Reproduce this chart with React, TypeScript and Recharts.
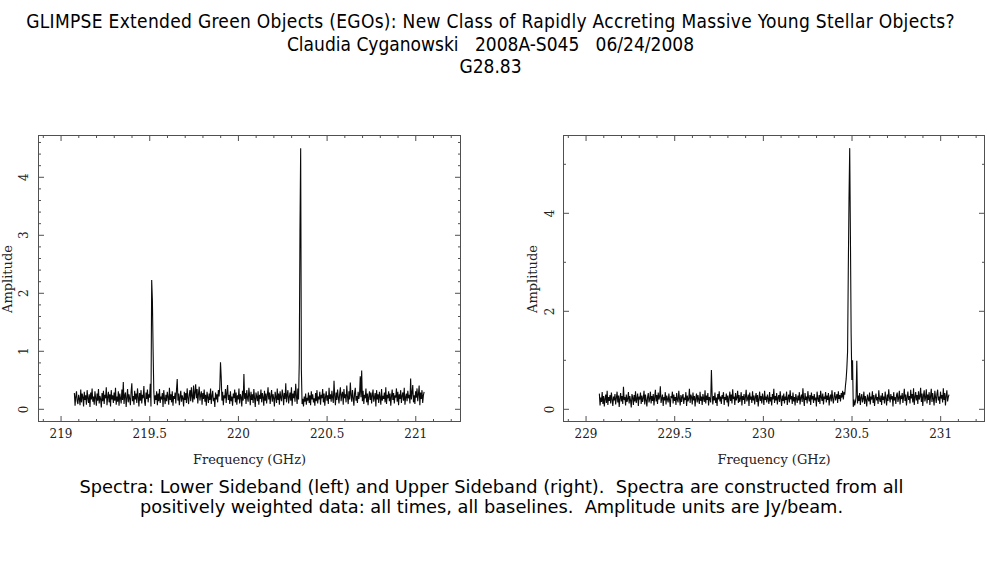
import { LineChart, Line, XAxis, YAxis } from "recharts";

// spectra: amplitude per 4 MHz channel, in hundredths of Jy/beam
const CHAN = 0.004;
const LSB_START = 219.075;
const USB_START = 229.075;

const lsbAmp = [
  28, 6, 22, 31, 14, 9, 25, 18, 7, 34, 12, 27, 21, 5, 30, 16, 24, 8, 33, 19,
  11, 26, 4, 29, 17, 36, 13, 22, 8, 31, 20, 6, 27, 15, 35, 10, 23, 18, 3, 28,
  14, 32, 9, 25, 19, 38, 7, 21, 30, 12, 26, 5, 33, 17, 24, 11, 29, 15, 37, 8,
  22, 13, 31, 6, 27, 19, 10, 34, 16, 47, 9, 24, 29, 4, 20, 35, 12, 26, 18, 7,
  30, 45, 14, 23, 8, 32, 17, 27, 11, 36, 21, 5, 28, 15, 33, 10, 25, 19, 40, 13,
  6, 29, 18, 34, 12, 26, 20, 44, 5, 223, 188, 102, 30, 9, 24, 16, 31, 7, 27, 14,
  35, 11, 22, 17, 28, 4, 33, 19, 9, 25, 14, 30, 21, 8, 37, 16, 26, 12, 31, 6,
  23, 18, 29, 10, 34, 52, 15, 27, 7, 21, 32, 13, 24, 19, 5, 30, 16, 28, 11, 36,
  20, 9, 26, 33, 14, 38, 22, 12, 41, 17, 29, 43, 19, 35, 10, 27, 39, 15, 24, 31,
  8, 28, 18, 34, 13, 25, 6, 30, 21, 11, 27, 16, 36, 9, 23, 32, 14, 20, 4, 29,
  17, 26, 12, 33, 22, 38, 81, 55, 15, 30, 7, 24, 19, 35, 11, 28, 42, 16, 25, 9,
  31, 14, 22, 6, 27, 19, 34, 12, 29, 8, 24, 17, 36, 10, 26, 21, 5, 32, 15, 61,
  18, 28, 9, 33, 20, 13, 37, 24, 7, 30, 16, 26, 11, 35, 19, 4, 29, 22, 14, 31,
  8, 25, 18, 34, 12, 28, 21, 6, 32, 15, 27, 10, 24, 38, 17, 29, 9, 23, 33, 13,
  26, 19, 5, 30, 22, 11, 36, 16, 27, 8, 31, 20, 14, 34, 25, 7, 28, 18, 45, 12,
  24, 33, 10, 21, 29, 15, 38, 6, 27, 19, 32, 13, 44, 23, 9, 36, 17, 79, 307, 450,
  68, 9, 18, 5, 22, 13, 27, 8, 20, 15, 29, 11, 24, 7, 31, 17, 26, 12, 19, 6,
  28, 14, 33, 10, 22, 17, 30, 8, 25, 19, 35, 12, 27, 6, 21, 31, 15, 24, 9, 37,
  18, 26, 13, 32, 20, 11, 49, 23, 7, 29, 16, 34, 21, 10, 27, 38, 14, 25, 30, 8,
  35, 19, 26, 12, 41, 22, 9, 31, 17, 46, 24, 13, 33, 20, 6, 28, 37, 15, 23, 11,
  30, 18, 26, 57, 21, 67, 14, 32, 9, 25, 19, 36, 12, 27, 7, 22, 31, 16, 29, 10,
  24, 34, 13, 20, 28, 5, 33, 17, 26, 11, 30, 21, 8, 35, 15, 23, 18, 29, 12, 38,
  9, 25, 19, 31, 14, 27, 6, 22, 34, 16, 28, 10, 24, 20, 36, 13, 30, 7, 26, 18,
  33, 11, 23, 29, 15, 37, 8, 21, 27, 14, 32, 19, 25, 10, 53, 17, 28, 42, 12, 24,
  9, 31, 20, 36, 14, 26, 41, 7, 29, 18, 33, 11, 24, 30,
];

const usbAmp = [
  32, 8, 24, 15, 35, 11, 27, 6, 21, 30, 13, 38, 9, 25, 17, 29, 12, 34, 20, 7,
  26, 18, 31, 10, 23, 36, 14, 28, 5, 22, 33, 16, 27, 11, 46, 19, 25, 8, 30, 15,
  21, 35, 12, 27, 18, 4, 31, 24, 9, 29, 16, 37, 13, 22, 32, 7, 26, 20, 34, 11,
  28, 15, 23, 38, 10, 30, 19, 6, 25, 33, 14, 21, 36, 12, 27, 17, 31, 8, 24, 40,
  16, 29, 11, 34, 20, 26, 47, 13, 22, 30, 7, 25, 18, 35, 10, 28, 21, 14, 32, 19,
  5, 27, 23, 36, 12, 30, 17, 25, 9, 33, 20, 14, 38, 22, 8, 29, 15, 26, 31, 11,
  24, 19, 35, 7, 28, 16, 21, 42, 13, 30, 25, 10, 34, 18, 27, 6, 23, 32, 14, 29,
  20, 11, 36, 17, 26, 9, 31, 22, 15, 39, 12, 28, 19, 33, 8, 25, 21, 14, 80, 30,
  10, 27, 18, 34, 13, 24, 7, 31, 20, 37, 16, 26, 11, 29, 22, 35, 9, 25, 19, 32,
  14, 28, 6, 23, 36, 17, 30, 12, 41, 21, 26, 9, 33, 18, 24, 38, 13, 29, 15, 22,
  35, 8, 27, 19, 31, 11, 25, 40, 16, 22, 30, 7, 34, 20, 26, 13, 37, 18, 28, 10,
  24, 33, 15, 29, 6, 21, 36, 17, 27, 12, 32, 23, 9, 38, 19, 26, 14, 30, 22, 11,
  35, 16, 25, 8, 31, 20, 42, 13, 27, 18, 33, 10, 24, 29, 15, 37, 21, 7, 28, 17,
  32, 12, 26, 19, 36, 9, 23, 30, 14, 39, 20, 27, 11, 34, 16, 25, 8, 31, 22, 13,
  28, 18, 35, 10, 24, 30, 15, 43, 21, 7, 33, 19, 26, 12, 37, 23, 16, 29, 9, 34,
  20, 27, 13, 31, 18, 24, 6, 36, 22, 15, 29, 11, 38, 25, 17, 32, 10, 26, 21, 35,
  14, 28, 19, 33, 8, 24, 30, 16, 39, 22, 12, 27, 35, 18, 25, 31, 13, 37, 21, 29,
  16, 33, 24, 38, 20, 35, 30, 48, 62, 85, 118, 284, 429, 533, 352, 155, 60, 100, 5, 20,
  8, 15, 25, 99, 12, 28, 17, 33, 9, 24, 31, 14, 21, 36, 11, 27, 19, 6, 30, 22,
  16, 34, 10, 26, 20, 37, 13, 29, 7, 23, 32, 18, 25, 11, 39, 21, 15, 28, 9, 33,
  19, 26, 12, 36, 22, 8, 30, 17, 41, 24, 14, 31, 20, 27, 6, 35, 18, 25, 11, 29,
  34, 15, 23, 38, 10, 28, 21, 33, 13, 26, 42, 17, 30, 8, 24, 36, 19, 27, 12, 40,
  22, 31, 14, 43, 9, 25, 35, 18, 29, 11, 37, 20, 26, 44, 15, 32, 7, 28, 39, 16,
  24, 41, 12, 30, 19, 35, 9, 27, 42, 15, 33, 21, 8, 38, 25, 13, 31, 40, 18, 26,
  11, 36, 22, 29, 14, 43, 19, 33, 8, 27, 39, 16, 25, 30,
];

const lsbXTicks = [218.9, 219, 219.1, 219.2, 219.3, 219.4, 219.5, 219.6, 219.7, 219.8, 219.9, 220, 220.1, 220.2, 220.3, 220.4, 220.5, 220.6, 220.7, 220.8, 220.9, 221, 221.1, 221.2];
const lsbXMajor = [219, 219.5, 220, 220.5, 221];
const usbXTicks = [228.9, 229, 229.1, 229.2, 229.3, 229.4, 229.5, 229.6, 229.7, 229.8, 229.9, 230, 230.1, 230.2, 230.3, 230.4, 230.5, 230.6, 230.7, 230.8, 230.9, 231, 231.1, 231.2];
const usbXMajor = [229, 229.5, 230, 230.5, 231];
const lsbYTicks = [0, 0.2, 0.4, 0.6, 0.8, 1, 1.2, 1.4, 1.6, 1.8, 2, 2.2, 2.4, 2.6, 2.8, 3, 3.2, 3.4, 3.6, 3.8, 4, 4.2, 4.4, 4.6];
const lsbYMajor = [0, 1, 2, 3, 4];
const usbYTicks = [0, 1, 2, 3, 4, 5];
const usbYMajor = [0, 2, 4];

const AXIS = "#505050";
const TICK_FONT = "'DejaVu Serif', serif";
const PLOT_H = 287;

function buildSpectrum(start: number, amp: number[]) {
  return amp.map((v, i) => ({ f: +(start + i * CHAN).toFixed(4), a: v / 100 }));
}

const lsbData = buildSpectrum(LSB_START, lsbAmp);
const usbData = buildSpectrum(USB_START, usbAmp);

const isIn = (list: number[], v: number) => list.some((m) => Math.abs(m - v) < 1e-6);

function XTick(props: any) {
  const { x, y, payload, majors } = props;
  const major = isIn(majors, payload.value);
  const len = major ? 6 : 3;
  return (
    <g>
      <line x1={x} x2={x} y1={y} y2={y - len} stroke={AXIS} />
      <line x1={x} x2={x} y1={y - PLOT_H} y2={y - PLOT_H + len} stroke={AXIS} />
      {major && (
        <text x={x} y={y + 12} textAnchor="middle" dominantBaseline="central" fontFamily={TICK_FONT} fontSize={12} fill="#222">
          {payload.value}
        </text>
      )}
    </g>
  );
}

function YTick(props: any) {
  const { x, y, payload, majors, plotW, gap } = props;
  const major = isIn(majors, payload.value);
  const len = major ? 6 : 3;
  return (
    <g>
      <line x1={x} x2={x + len} y1={y} y2={y} stroke={AXIS} />
      <line x1={x + plotW} x2={x + plotW - len} y1={y} y2={y} stroke={AXIS} />
      {major && (
        <text
          x={x - gap}
          y={y}
          textAnchor="middle"
          dominantBaseline="central"
          transform={`rotate(-90 ${x - gap} ${y})`}
          fontFamily={TICK_FONT}
          fontSize={12}
          fill="#222"
        >
          {payload.value}
        </text>
      )}
    </g>
  );
}

type PanelProps = {
  left: number;
  width: number;
  marginLeft: number;
  marginRight: number;
  data: { f: number; a: number }[];
  xDomain: number[];
  yDomain: number[];
  xTicks: number[];
  xMajor: number[];
  yTicks: number[];
  yMajor: number[];
  gap: number;
};

function Panel(p: PanelProps) {
  const plotW = p.width - p.marginLeft - p.marginRight;
  const frameLeft = p.left + p.marginLeft;
  return (
    <>
      <div style={{ position: "absolute", left: p.left, top: 0 }}>
        <LineChart
          width={p.width}
          height={480}
          data={p.data}
          margin={{ top: 135, right: p.marginRight, bottom: 57, left: p.marginLeft - 1 }}
        >
          <XAxis
            dataKey="f"
            type="number"
            domain={p.xDomain}
            allowDataOverflow
            ticks={p.xTicks}
            interval={0}
            height={1}
            axisLine={false}
            tickLine={false}
            tickSize={0}
            tickMargin={0}
            tick={(t: any) => <XTick {...t} majors={p.xMajor} />}
          />
          <YAxis
            type="number"
            domain={p.yDomain}
            allowDataOverflow
            ticks={p.yTicks}
            interval={0}
            width={1}
            axisLine={false}
            tickLine={false}
            tickSize={0}
            tickMargin={0}
            tick={(t: any) => <YTick {...t} majors={p.yMajor} plotW={plotW} gap={p.gap} />}
          />
          <Line type="linear" dataKey="a" stroke="#0a0a0a" strokeWidth={1.1} dot={false} isAnimationActive={false} />
        </LineChart>
      </div>
      <div
        style={{
          position: "absolute",
          left: frameLeft,
          top: 135,
          width: plotW,
          height: PLOT_H,
          border: `1px solid ${AXIS}`,
          boxSizing: "border-box",
          pointerEvents: "none",
        }}
      />
      <div
        style={{
          position: "absolute",
          left: frameLeft,
          width: plotW,
          top: 452,
          textAlign: "center",
          fontFamily: TICK_FONT,
          fontSize: 13,
          color: "#222",
        }}
      >
        Frequency (GHz)
      </div>
      <div
        style={{
          position: "absolute",
          left: frameLeft - 30 - 60,
          top: 279 - 8,
          width: 120,
          height: 16,
          lineHeight: "16px",
          textAlign: "center",
          transform: "rotate(-90deg)",
          fontFamily: TICK_FONT,
          fontSize: 13,
          color: "#222",
        }}
      >
        Amplitude
      </div>
    </>
  );
}

export default function App() {
  const titleStyle: any = {
    position: "absolute",
    left: -3,
    width: 987,
    textAlign: "center",
    fontFamily: "'DejaVu Sans Condensed', 'DejaVu Sans', sans-serif",
    fontStretch: "condensed",
    fontSize: 19,
    whiteSpace: "pre",
    color: "#000",
  };
  const captionStyle: any = {
    position: "absolute",
    left: -2,
    width: 987,
    textAlign: "center",
    fontFamily: "'DejaVu Sans', sans-serif",
    fontSize: 17.8,
    whiteSpace: "pre",
    color: "#000",
  };
  return (
    <div style={{ position: "absolute", left: 0, top: 0, width: 987, height: 567, background: "#fff", overflow: "hidden" }}>
      <div style={{ ...titleStyle, top: 10, letterSpacing: 0.3 }}>GLIMPSE Extended Green Objects (EGOs): New Class of Rapidly Accreting Massive Young Stellar Objects?</div>
      <div style={{ ...titleStyle, top: 33 }}>Claudia Cyganowski   2008A-S045   06/24/2008</div>
      <div style={{ ...titleStyle, top: 55 }}>G28.83</div>

      <Panel
        left={0}
        width={480}
        marginLeft={38}
        marginRight={19}
        data={lsbData}
        xDomain={[218.87, 221.255]}
        yDomain={[-0.219, 4.729]}
        xTicks={lsbXTicks}
        xMajor={lsbXMajor}
        yTicks={lsbYTicks}
        yMajor={lsbYMajor}
        gap={14}
      />
      <Panel
        left={500}
        width={487}
        marginLeft={63}
        marginRight={2}
        data={usbData}
        xDomain={[228.87, 231.25]}
        yDomain={[-0.259, 5.598]}
        xTicks={usbXTicks}
        xMajor={usbXMajor}
        yTicks={usbYTicks}
        yMajor={usbYMajor}
        gap={13}
      />

      <div style={{ ...captionStyle, top: 476 }}>Spectra: Lower Sideband (left) and Upper Sideband (right).  Spectra are constructed from all</div>
      <div style={{ ...captionStyle, top: 496 }}>positively weighted data: all times, all baselines.  Amplitude units are Jy/beam.</div>
    </div>
  );
}
